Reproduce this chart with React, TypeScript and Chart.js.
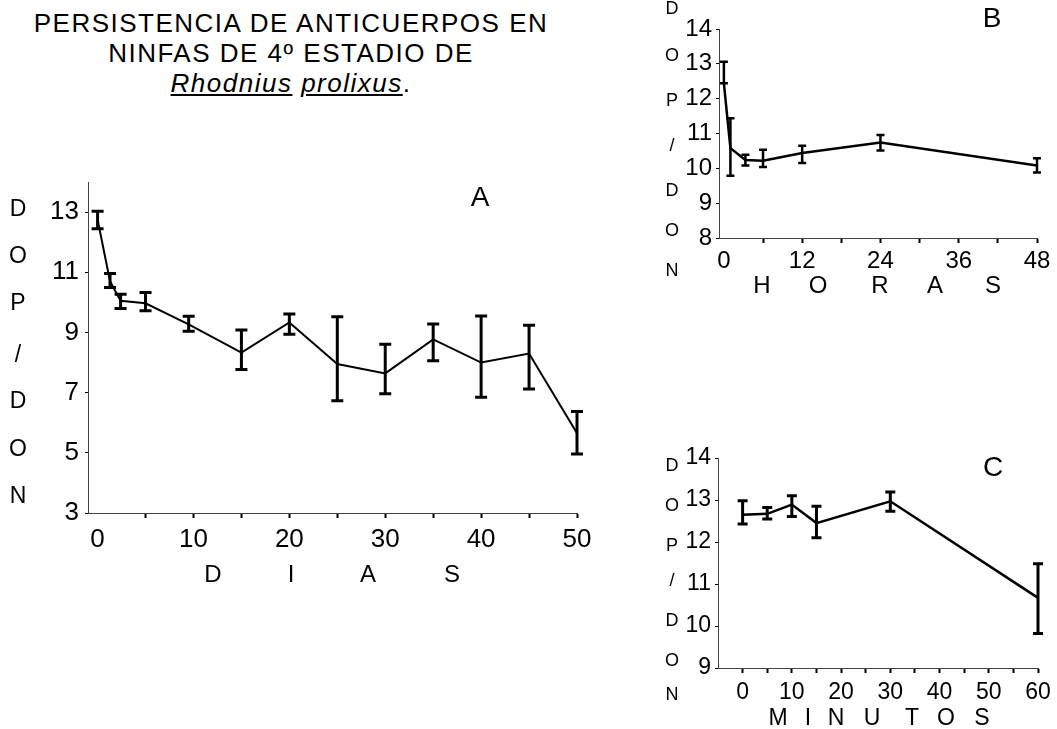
import React, { useEffect, useRef } from 'react';
import { Chart, registerables } from 'chart.js';
Chart.register(...registerables);

// ---------- DATA ----------
// Panel A: days
const diasX = [0, 1.3, 2.4, 5, 9.5, 15, 20, 25, 30, 35, 40, 45, 50];
const diasMean = [12.75, 10.7, 10.05, 9.97, 9.27, 8.33, 9.33, 7.95, 7.64, 8.77, 8.0, 8.3, 5.65];
const diasLow = [12.45, 10.49, 9.8, 9.72, 9.04, 7.77, 8.94, 6.73, 6.96, 8.06, 6.85, 7.12, 4.96];
const diasHigh = [13.03, 10.96, 10.27, 10.33, 9.54, 9.08, 9.61, 9.52, 8.61, 9.28, 9.55, 9.24, 6.37];
const diasTicksX = [0, 5, 10, 15, 20, 25, 30, 35, 40, 45, 50];
const diasTicksY = [3, 5, 7, 9, 11, 13];

// Panel B: hours
const horasX = [0, 1, 3.3, 6, 12, 24, 48];
const horasMean = [12.44, 10.58, 10.24, 10.22, 10.44, 10.74, 10.08];
const horasLow = [12.44, 9.79, 10.08, 10.04, 10.15, 10.51, 9.88];
const horasHigh = [13.06, 11.44, 10.39, 10.53, 10.65, 10.96, 10.29];
const horasTicksX = [0, 6, 12, 18, 24, 30, 36, 42, 48];
const horasTicksY = [8, 9, 10, 11, 12, 13, 14];

// Panel C: minutes
const minutosX = [0, 5, 10, 15, 30, 60];
const minutosMean = [12.65, 12.67, 12.89, 12.45, 12.97, 10.67];
const minutosLow = [12.43, 12.55, 12.61, 12.1, 12.73, 9.82];
const minutosHigh = [12.98, 12.82, 13.1, 12.85, 13.19, 11.48];
const minutosTicksX = [0, 5, 10, 15, 20, 25, 30, 35, 40, 45, 50, 55, 60];
const minutosTicksY = [9, 10, 11, 12, 13, 14];

const yTitleLetters = ['D', 'O', 'P', '/', 'D', 'O', 'N'];
const diasLetters = ['D', 'I', 'A', 'S'];
const horasLetters = ['H', 'O', 'R', 'A', 'S'];
const minutosLetters = ['M', 'I', 'N', 'U', 'T', 'O', 'S'];

const FONT = '"Liberation Sans", Arial, Helvetica, sans-serif';

const errorBarPlugin = {
  id: 'errorBars',
  afterDatasetsDraw(chart: any, _args: any, opts: any) {
    const { ctx } = chart;
    const xs = chart.scales.x;
    const ys = chart.scales.y;
    const pts = chart.data.datasets[0].data;
    ctx.save();
    ctx.strokeStyle = '#000';
    ctx.lineWidth = opts.lineWidth;
    ctx.lineCap = 'butt';
    for (let i = 0; i < pts.length; i++) {
      const px = xs.getPixelForValue(pts[i].x);
      const yl = ys.getPixelForValue(opts.low[i]);
      const yh = ys.getPixelForValue(opts.high[i]);
      ctx.beginPath();
      ctx.moveTo(px, yl);
      ctx.lineTo(px, yh);
      ctx.moveTo(px - opts.cap, yl);
      ctx.lineTo(px + opts.cap, yl);
      ctx.moveTo(px - opts.cap, yh);
      ctx.lineTo(px + opts.cap, yh);
      ctx.stroke();
    }
    ctx.restore();
  },
};

type PanelProps = {
  left: number; top: number; width: number; height: number;
  xs: number[]; mean: number[]; low: number[]; high: number[];
  xMin: number; xMax: number; yMin: number; yMax: number;
  ticksX: number[]; ticksY: number[]; labelEvery: number; hideZeroTick: boolean;
  yAxisWidth: number; xAxisHeight: number;
  padding: { left: number; top: number; right: number; bottom: number };
  fontSize: number; xTickPad: number; yTickPad: number;
  lineWidth: number; barWidth: number; cap: number;
};

function Panel(p: PanelProps) {
  const ref = useRef<HTMLCanvasElement | null>(null);
  useEffect(() => {
    if (!ref.current) return;
    const chart = new Chart(ref.current, {
      type: 'line',
      data: {
        datasets: [
          {
            data: p.xs.map((x, i) => ({ x, y: p.mean[i] })),
            borderColor: '#000',
            borderWidth: p.lineWidth,
            pointRadius: 0,
            tension: 0,
            fill: false,
          },
        ],
      },
      options: {
        responsive: false,
        animation: false,
        events: [],
        layout: { padding: p.padding },
        plugins: {
          legend: { display: false },
          tooltip: { enabled: false },
          errorBars: { low: p.low, high: p.high, lineWidth: p.barWidth, cap: p.cap },
        } as any,
        scales: {
          x: {
            type: 'linear',
            min: p.xMin,
            max: p.xMax,
            afterBuildTicks: (s: any) => { s.ticks = p.ticksX.map((v) => ({ value: v })); },
            afterFit: (s: any) => { s.height = p.xAxisHeight; s.paddingLeft = 0; s.paddingRight = 0; },
            ticks: {
              autoSkip: false,
              maxRotation: 0,
              color: '#000',
              padding: p.xTickPad,
              font: { family: FONT, size: p.fontSize },
              callback: (v: any) => (Number(v) % p.labelEvery === 0 ? String(v) : ''),
            },
            grid: {
              drawOnChartArea: false,
              drawTicks: true,
              tickLength: 5,
              tickWidth: 2,
              tickColor: (c: any) => (p.hideZeroTick && c.tick && c.tick.value === 0 ? 'rgba(0,0,0,0)' : '#000'),
            },
            border: { display: true, color: '#444', width: 1 },
          },
          y: {
            type: 'linear',
            min: p.yMin,
            max: p.yMax,
            afterBuildTicks: (s: any) => { s.ticks = p.ticksY.map((v) => ({ value: v })); },
            afterFit: (s: any) => { s.width = p.yAxisWidth; s.paddingTop = 0; s.paddingBottom = 0; },
            ticks: {
              color: '#000',
              padding: p.yTickPad,
              font: { family: FONT, size: p.fontSize },
            },
            grid: { drawOnChartArea: false, drawTicks: true, tickLength: 3, tickWidth: 1, tickColor: '#000' },
            border: { display: true, color: '#444', width: 1 },
          },
        },
      },
      plugins: [errorBarPlugin],
    } as any);
    return () => chart.destroy();
  }, []);
  return (
    <canvas
      ref={ref}
      width={p.width}
      height={p.height}
      style={{ position: 'absolute', left: p.left, top: p.top, width: p.width, height: p.height }}
    />
  );
}

function Letter({ ch, x, y, size }: { ch: string; x: number; y: number; size: number }) {
  return (
    <div
      style={{
        position: 'absolute', left: x, top: y, transform: 'translate(-50%, -50%)',
        fontSize: size, lineHeight: 1, whiteSpace: 'nowrap',
      }}
    >
      {ch}
    </div>
  );
}

export default function App() {
  const aYPos = [208, 255, 302, 354, 400, 448, 495];
  const bYPos = [8, 55, 100, 145, 190, 230, 270];
  const cYPos = [465, 505, 545, 580, 620, 660, 694];
  const aXPos = [213, 291, 368, 452];
  const bXPos = [762, 818, 880, 935, 993];
  const cXPos = [778, 808, 836, 872, 912, 946, 982];
  const titleLine = { position: 'absolute' as const, left: 291, transform: 'translate(-50%, -50%)', fontSize: 26, letterSpacing: 1.5, lineHeight: 1, whiteSpace: 'nowrap' as const };
  return (
    <div style={{ position: 'absolute', left: 0, top: 0, width: 1057, height: 729, background: '#fff', color: '#000', fontFamily: FONT, overflow: 'hidden' }}>
      <div style={{ ...titleLine, top: 23 }}>PERSISTENCIA DE ANTICUERPOS EN</div>
      <div style={{ ...titleLine, top: 53 }}>NINFAS DE 4º ESTADIO DE</div>
      <div style={{ ...titleLine, top: 83 }}>
        <span style={{ fontStyle: 'italic', textDecoration: 'underline' }}>Rhodnius</span>{' '}
        <span style={{ fontStyle: 'italic', textDecoration: 'underline' }}>prolixus</span>.
      </div>

      <Panel
        left={0} top={120} width={610} height={480}
        xs={diasX} mean={diasMean} low={diasLow} high={diasHigh}
        xMin={-1} xMax={50} yMin={3} yMax={14}
        ticksX={diasTicksX} ticksY={diasTicksY} labelEvery={10} hideZeroTick={true}
        yAxisWidth={88} xAxisHeight={40}
        padding={{ left: 0, top: 62, right: 33, bottom: 47 }}
        fontSize={26} xTickPad={6} yTickPad={6}
        lineWidth={2} barWidth={3} cap={6}
      />
      {yTitleLetters.map((c, i) => <Letter key={'ay' + i} ch={c} x={18} y={aYPos[i]} size={23} />)}
      {diasLetters.map((c, i) => <Letter key={'ax' + i} ch={c} x={aXPos[i]} y={574} size={24} />)}
      <Letter ch="A" x={480} y={197} size={28} />

      <Panel
        left={620} top={0} width={437} height={300}
        xs={horasX} mean={horasMean} low={horasLow} high={horasHigh}
        xMin={-0.75} xMax={48} yMin={8} yMax={14}
        ticksX={horasTicksX} ticksY={horasTicksY} labelEvery={12} hideZeroTick={true}
        yAxisWidth={99} xAxisHeight={40}
        padding={{ left: 0, top: 29, right: 20, bottom: 22 }}
        fontSize={24} xTickPad={4} yTickPad={4}
        lineWidth={2.5} barWidth={2.5} cap={4}
      />
      {yTitleLetters.map((c, i) => <Letter key={'by' + i} ch={c} x={672} y={bYPos[i]} size={18} />)}
      {horasLetters.map((c, i) => <Letter key={'bx' + i} ch={c} x={bXPos[i]} y={285} size={24} />)}
      <Letter ch="B" x={992} y={18} size={28} />

      <Panel
        left={620} top={420} width={437} height={309}
        xs={minutosX} mean={minutosMean} low={minutosLow} high={minutosHigh}
        xMin={-5} xMax={60} yMin={9} yMax={14}
        ticksX={minutosTicksX} ticksY={minutosTicksY} labelEvery={10} hideZeroTick={false}
        yAxisWidth={98} xAxisHeight={40}
        padding={{ left: 0, top: 38, right: 19, bottom: 21 }}
        fontSize={23} xTickPad={6} yTickPad={4}
        lineWidth={2.5} barWidth={3} cap={5}
      />
      {yTitleLetters.map((c, i) => <Letter key={'cy' + i} ch={c} x={672} y={cYPos[i]} size={18} />)}
      {minutosLetters.map((c, i) => <Letter key={'cx' + i} ch={c} x={cXPos[i]} y={717} size={23} />)}
      <Letter ch="C" x={993} y={467} size={28} />
    </div>
  );
}
